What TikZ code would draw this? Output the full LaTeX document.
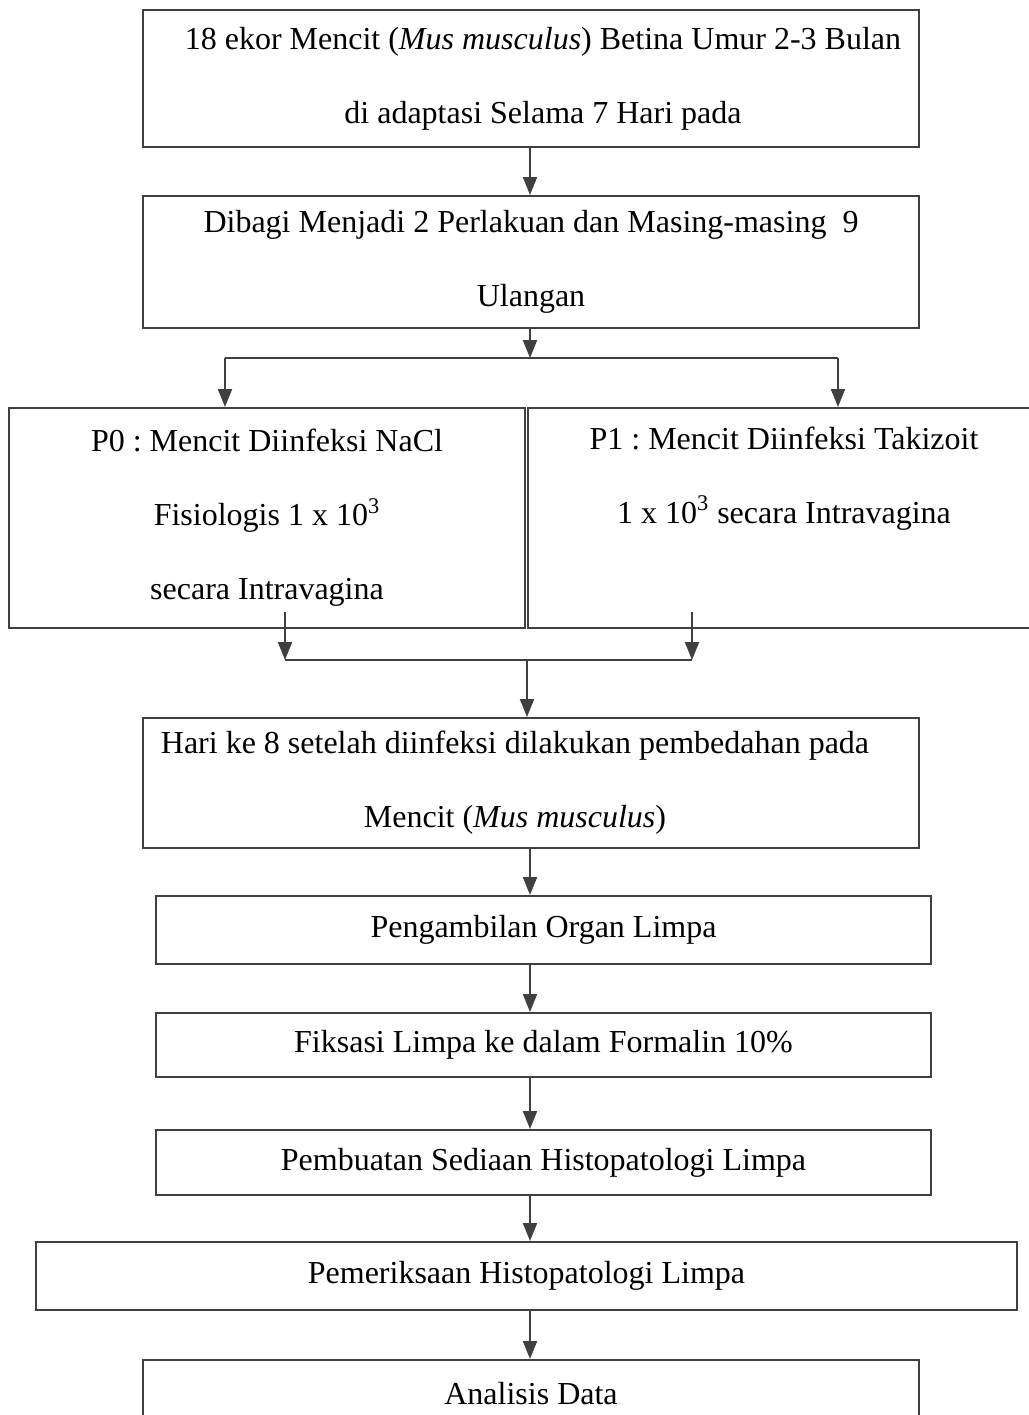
\documentclass[tikz,border=0pt]{standalone}
\usepackage{fontspec}
\setmainfont{Liberation Serif}
\usetikzlibrary{arrows.meta}
\frenchspacing

\tikzset{
  kotak/.style={draw=black!75, line width=1pt, align=center, inner sep=0pt,
    font=\fontsize{16}{37}\selectfont},
  panah/.style={draw=black!75, line width=1pt, -{Triangle[width=7pt,length=9pt]}},
  garis/.style={draw=black!75, line width=1pt}
}

\begin{document}
\begin{tikzpicture}[x=0.5pt,y=-0.5pt]
\useasboundingbox[fill=white] (0,0) rectangle (1029,1415);
\node[kotak, minimum width=388pt, minimum height=68.5pt] (adaptasi) at (531,78.5)
  {\hspace*{12pt}18 ekor Mencit (\textit{Mus musculus}) Betina Umur 2-3 Bulan\\\hspace*{12pt}di adaptasi Selama 7 Hari pada};
\node[kotak, minimum width=388pt, minimum height=66pt] (bagi) at (531,262)
  {Dibagi Menjadi 2 Perlakuan dan Masing-masing~~9\\Ulangan};
\node[kotak, minimum width=258pt, minimum height=110pt] (p0) at (267,518)
  {P0 : Mencit Diinfeksi NaCl\\Fisiologis 1 x 10\textsuperscript{3}\\secara Intravagina};
\node[kotak, minimum width=256pt, minimum height=110pt] (p1) at (784,518)
  {P1 : Mencit Diinfeksi Takizoit\\1 x 10\textsuperscript{3} secara Intravagina\\[6pt]\mbox{}};
\node[kotak, minimum width=388pt, minimum height=65pt] (bedah) at (531,783)
  {Hari ke 8 setelah diinfeksi dilakukan pembedahan pada\hspace*{16pt}\\Mencit (\textit{Mus musculus})\hspace*{16pt}};
\node[kotak, minimum width=387.5pt, minimum height=34pt] (ambil) at (543.5,930)
  {Pengambilan Organ Limpa};
\node[kotak, minimum width=387.5pt, minimum height=32pt] (fiksasi) at (543.5,1045)
  {Fiksasi Limpa ke dalam Formalin 10\%};
\node[kotak, minimum width=387.5pt, minimum height=32.5pt] (sediaan) at (543.5,1162.5)
  {Pembuatan Sediaan Histopatologi Limpa};
\node[kotak, minimum width=490.5pt, minimum height=34pt] (periksa) at (526.5,1276)
  {Pemeriksaan Histopatologi Limpa};
\node[kotak, minimum width=388pt, minimum height=34pt] (analisis) at (531,1394)
  {Analisis Data};

\coordinate (sumbu) at (530,0);
\coordinate (cabang) at (530,358);
\coordinate (kiri) at (225,358);
\coordinate (kanan) at (838,358);
\coordinate (a0) at (285,612);
\coordinate (a1) at (692,612);
\coordinate (b0) at (285,660);
\coordinate (b1) at (692,660);
\coordinate (gabung) at (527,660);

\draw[panah] (sumbu |- adaptasi.south) -- (sumbu |- bagi.north);
\draw[panah] (sumbu |- bagi.south) -- (cabang);
\draw[garis] (kiri) -- (kanan);
\draw[panah] (kiri) -- (kiri |- p0.north);
\draw[panah] (kanan) -- (kanan |- p1.north);
\draw[panah] (a0) -- (b0);
\draw[panah] (a1) -- (b1);
\draw[garis] (b0) -- (b1);
\draw[panah] (gabung) -- (gabung |- bedah.north);
\foreach \a/\b in {bedah/ambil,ambil/fiksasi,fiksasi/sediaan,sediaan/periksa,periksa/analisis}
  \draw[panah] (sumbu |- \a.south) -- (sumbu |- \b.north);
\end{tikzpicture}
\end{document}
